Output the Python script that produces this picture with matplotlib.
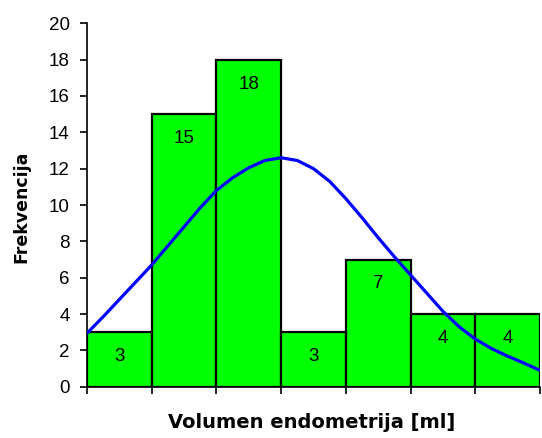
import matplotlib
matplotlib.use("Agg")
import matplotlib.pyplot as plt

plt.rcParams['font.family'] = ['Liberation Sans', 'DejaVu Sans']

# Histogram bins (index of class) and frequencies
bins = [0, 1, 2, 3, 4, 5, 6]
freq = [3, 15, 18, 3, 7, 4, 4]

# Fitted curve (x in bin units)
curve_x = [0, 0.25, 0.5, 0.75, 1, 1.25, 1.5, 1.75, 2, 2.25, 2.5, 2.75, 3, 3.25, 3.5, 3.75,
           4, 4.25, 4.5, 4.75, 5, 5.25, 5.5, 5.75, 6, 6.25, 6.5, 6.75, 7]
curve_y = [2.94, 3.85, 4.8, 5.75, 6.7, 7.75, 8.8, 9.85, 10.8, 11.5, 12.05, 12.45, 12.6, 12.45,
           12.0, 11.3, 10.35, 9.3, 8.2, 7.15, 6.15, 5.15, 4.15, 3.3, 2.62, 2.1, 1.68, 1.3, 0.9]

yticks = [0, 2, 4, 6, 8, 10, 12, 14, 16, 18, 20]

W, H = 542, 438
fig = plt.figure(figsize=(W / 100, H / 100), dpi=100)
ax = fig.add_axes([87 / W, 1 - 386.7 / H, (540 - 87) / W, (386.7 - 23.3) / H])

ax.bar(bins, freq, width=1, align='edge', color='#00FF00', edgecolor='black', linewidth=1.6, zorder=2)
for b, f in zip(bins, freq):
    ax.annotate(str(f), (b + 0.5, f), xytext=(0, -17.6), textcoords='offset points',
                ha='center', va='center', fontsize=13.5, zorder=4)

ax.plot(curve_x, curve_y, color='#0000FF', linewidth=2.3, zorder=3,
        solid_capstyle='round', solid_joinstyle='round')

ax.set_xlim(0, 7)
ax.set_ylim(0, 20)
ax.set_xticks(range(0, 8))
ax.set_xticklabels([])
ax.set_yticks(yticks)
ax.set_yticklabels([str(v) for v in yticks], fontsize=13.5)
ax.tick_params(axis='both', direction='out', length=5, width=1.2, color='black')
ax.tick_params(axis='y', pad=7.5)

for s in ['top', 'right']:
    ax.spines[s].set_visible(False)
for s in ['left', 'bottom']:
    ax.spines[s].set_linewidth(1.2)
    ax.spines[s].set_color('black')

fig.text(312 / W, 1 - 423 / H, 'Volumen endometrija [ml]', ha='center', va='center',
         fontsize=14, fontweight='bold', family='DejaVu Sans')
fig.text(21 / W, 1 - 207 / H, 'Frekvencija', ha='center', va='center', rotation=90,
         fontsize=12.5, fontweight='bold', family='DejaVu Sans')

fig.savefig('out.png', dpi=100)
